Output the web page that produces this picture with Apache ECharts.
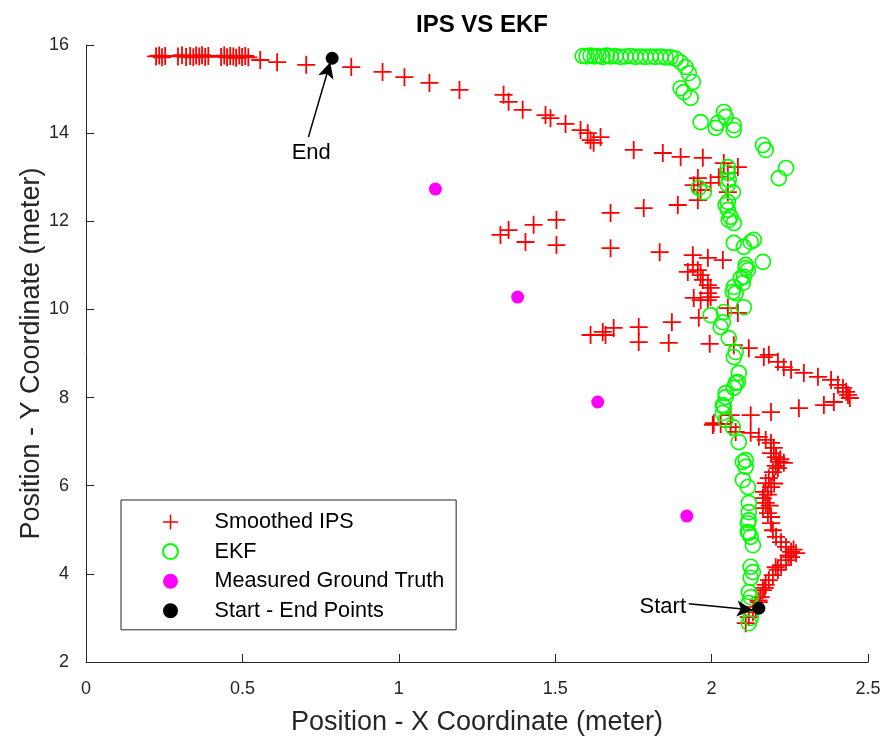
<!DOCTYPE html>
<html>
<head>
<meta charset="utf-8">
<title>IPS VS EKF</title>
<script src="https://cdn.jsdelivr.net/npm/echarts@6/dist/echarts.min.js"></script>
<style>
  html, body { margin: 0; padding: 0; background: #fff; }
  #chart { width: 886px; height: 742px; }
</style>
</head>
<body>
<div id="chart"></div>
<script>
// data, [x, y] in meters
var ipsPoints = [
  [0.224,15.74],[0.234,15.76],[0.243,15.72],[0.253,15.75],[0.294,15.74],[0.307,15.77],[0.320,15.73],[0.333,15.75],
  [0.343,15.72],[0.352,15.76],[0.362,15.74],[0.371,15.77],[0.381,15.73],[0.391,15.75],[0.432,15.73],[0.442,15.76],
  [0.451,15.72],[0.461,15.75],[0.471,15.74],[0.480,15.71],[0.490,15.76],[0.499,15.73],[0.509,15.75],[0.519,15.72],
  [0.557,15.66],[0.611,15.61],[0.704,15.55],[0.848,15.50],[0.948,15.39],[1.018,15.27],[1.098,15.14],[1.194,14.98],
  [1.335,14.87],[1.351,14.71],[1.396,14.53],[1.469,14.41],[1.485,14.34],[1.533,14.21],[1.581,14.07],[1.604,14.00],
  [1.613,13.84],[1.623,13.78],[1.645,13.91],
  [1.751,13.62],[1.844,13.55],[1.901,13.46],[1.972,13.44],[2.039,13.32],[2.084,13.23],[2.052,13.10],[2.023,13.00],
  [1.956,12.98],[1.943,12.82],[1.965,12.71],[1.997,12.87],[2.052,12.66],[1.956,12.48],[1.892,12.37],[1.783,12.30],
  [1.677,12.19],[1.325,11.69],[1.351,11.80],[1.405,11.53],[1.431,11.92],[1.504,12.03],[1.504,11.46],[1.677,11.39],
  [1.834,11.30],[1.940,11.23],[1.988,11.17],[2.036,11.12],[1.940,11.01],
  [1.924,10.85],[1.956,10.89],[1.965,10.78],[1.972,10.67],[1.988,10.55],[1.997,10.49],[1.988,10.37],[1.997,10.28],
  [1.943,10.26],[1.965,10.21],[1.988,10.21],[1.959,9.81],[2.084,9.92],[2.052,10.03],
  [1.613,9.42],[1.652,9.49],[1.661,9.42],[1.687,9.58],[1.767,9.60],[1.767,9.26],[1.873,9.71],[1.863,9.24],
  [1.994,9.22],[2.071,9.19],[2.119,9.12],
  [2.167,8.92],[2.183,8.97],[2.212,8.81],[2.231,8.69],[2.254,8.63],[2.295,8.56],[2.340,8.47],[2.382,8.40],
  [2.404,8.29],[2.420,8.22],[2.430,8.13],[2.436,8.06],[2.442,7.99],[2.391,7.90],[2.359,7.83],[2.279,7.76],
  [2.190,7.67],[2.125,7.60],[2.061,7.60],[2.007,7.42],
  [2.004,7.38],[2.029,7.40],[2.061,7.33],[2.077,7.22],[2.125,7.20],[2.151,7.11],[2.173,7.04],[2.190,6.97],
  [2.199,6.86],[2.190,6.74],[2.206,6.65],[2.215,6.54],[2.231,6.52],[2.212,6.40],[2.196,6.31],[2.183,6.17],
  [2.173,6.06],[2.190,5.97],[2.167,5.86],[2.164,5.72],[2.173,5.61],[2.164,5.49],[2.180,5.38],[2.190,5.29],
  [2.190,5.15],[2.196,4.99],[2.206,4.84],[2.222,4.72],[2.238,4.61],[2.254,4.50],[2.270,4.47],[2.254,4.38],
  [2.238,4.31],[2.222,4.20],[2.212,4.09],[2.196,3.97],[2.183,3.86],[2.173,3.75],[2.164,3.63],[2.157,3.47],
  [2.151,3.36],[2.141,3.25],[2.132,3.13],[2.119,3.02],[2.109,2.88],
  [2.180,5.80],[2.200,6.05],[2.186,5.55],[2.262,4.55],[2.246,4.42],[2.205,4.15],[2.170,3.68],[2.205,6.45],
  [2.220,6.60],[2.150,3.40]
];

var ekfPoints = [
  [1.588,15.75],[1.600,15.74],[1.613,15.76],[1.626,15.74],[1.639,15.75],[1.652,15.73],[1.665,15.76],[1.677,15.74],
  [1.693,15.75],[1.709,15.73],[1.725,15.74],[1.741,15.75],[1.757,15.73],[1.773,15.74],[1.789,15.73],[1.805,15.74],
  [1.821,15.73],[1.837,15.74],[1.853,15.72],[1.869,15.72],[1.885,15.69],
  [1.901,15.61],[1.917,15.50],[1.927,15.36],[1.940,15.16],[1.901,15.02],[1.911,14.93],[1.933,14.80],[1.965,14.25],
  [2.039,14.48],[2.045,14.37],[2.020,14.23],[2.013,14.12],[2.071,14.18],[2.071,14.07],[2.164,13.73],[2.173,13.62],
  [2.238,13.21],[2.215,12.98],[1.959,12.76],[1.975,12.66],[2.052,13.23],[2.052,13.10],[2.055,12.94],[2.052,12.83],
  [2.068,12.66],[2.052,12.44],[2.045,12.37],[2.052,12.26],[2.061,12.10],[2.055,12.03],[2.071,11.96],[2.071,11.51],
  [2.103,11.42],[2.125,11.53],[2.135,11.58],[2.109,11.01],[2.164,11.08],
  [2.116,10.89],[2.109,10.94],[2.103,10.74],[2.093,10.71],[2.100,10.60],[2.071,10.51],[2.068,10.40],[2.077,10.37],
  [2.103,10.05],[1.997,9.87],[2.039,9.94],[2.036,9.71],[2.029,9.60],[2.055,9.35],[2.077,9.03],[2.071,8.92],
  [2.087,8.56],[2.084,8.35],[2.077,8.33],[2.071,8.22],[2.045,8.10],[2.045,8.01],[2.036,7.83],[2.039,7.79],
  [2.036,7.65],[2.045,7.49],[2.068,7.33],
  [2.087,6.99],[2.100,6.54],[2.109,6.58],[2.109,6.43],[2.100,6.13],[2.116,5.97],[2.119,5.61],[2.119,5.40],
  [2.119,5.22],[2.116,5.15],[2.116,4.95],[2.119,4.93],[2.125,4.84],[2.132,4.65],[2.125,4.16],[2.132,4.04],
  [2.125,3.91],[2.119,3.59],[2.125,3.47],[2.119,3.34],[2.125,3.00],[2.119,2.88]
];

var groundTruth = [[1.117,12.73],[1.380,10.28],[1.636,7.90],[1.921,5.31]];

// start point first, end point second
var startEnd = [[2.151,3.22],[0.787,15.70]];

// annotation arrows: [tail, head]
var endArrow = [[0.711,13.91],[0.781,15.61]];
var startArrow = [[1.927,3.32],[2.132,3.18]];
// annotation texts
var endText = [0.720,13.55];
var startText = [1.844,3.25];

var xTicks = [0, 0.5, 1, 1.5, 2, 2.5];
var yTicks = [2, 4, 6, 8, 10, 12, 14, 16];

var fontFamily = 'Liberation Sans, Arial, Helvetica, sans-serif';
var axisColor = '#262626';

var chart = echarts.init(document.getElementById('chart'), null, { renderer: 'canvas' });

// axis settings shared by x and y
function axisBase(ticks, gap) {
  return {
    type: 'value',
    min: ticks[0],
    max: ticks[ticks.length - 1],
    interval: ticks[1] - ticks[0],
    nameLocation: 'middle',
    nameGap: gap,
    nameMoveOverlap: false,
    nameTextStyle: { color: axisColor, fontSize: 27, fontFamily: fontFamily },
    axisLine: { show: true, onZero: false, lineStyle: { color: axisColor, width: 1 } },
    axisTick: { show: true, inside: true, length: 8, lineStyle: { color: axisColor } },
    axisLabel: { color: axisColor, fontSize: 18, fontFamily: fontFamily },
    splitLine: { show: false }
  };
}

var xAxis = axisBase(xTicks, 47);
xAxis.name = 'Position - X Coordinate (meter)';
xAxis.axisLabel.margin = 18;

var yAxis = axisBase(yTicks, 41);
yAxis.name = 'Position - Y Coordinate (meter)';
yAxis.axisLabel.margin = 17;

var option = {
  backgroundColor: '#fff',
  animation: false,
  title: {
    text: 'IPS VS EKF',
    left: 477,
    top: 8,
    textAlign: 'center',
    textStyle: { color: '#000', fontSize: 24, fontWeight: 'bold', fontFamily: fontFamily }
  },
  grid: { left: 86, right: 18, top: 45, bottom: 80, containLabel: false },
  xAxis: xAxis,
  yAxis: yAxis,
  legend: {
    orient: 'vertical',
    left: 121,
    top: 500,
    padding: [11, 12, 8, 41],
    itemWidth: 78,
    itemHeight: 15,
    itemGap: 7.6,
    borderColor: axisColor,
    borderWidth: 1,
    borderRadius: 0,
    backgroundColor: '#fff',
    textStyle: { color: '#000', fontSize: 21.6, fontFamily: fontFamily },
    data: ['Smoothed IPS', 'EKF', 'Measured Ground Truth', 'Start - End Points']
  },
  series: [
    {
      name: 'Smoothed IPS',
      type: 'scatter',
      symbol: 'path://M0,9H20V11H0Z M9,0H11V20H9Z',
      symbolSize: 18,
      itemStyle: { color: '#ff0000', opacity: 1 },
      data: ipsPoints
    },
    {
      name: 'EKF',
      type: 'scatter',
      symbol: 'circle',
      symbolSize: 15,
      itemStyle: { color: 'rgba(0,0,0,0)', borderColor: '#00ff00', borderWidth: 1.6, opacity: 1 },
      data: ekfPoints
    },
    {
      name: 'Measured Ground Truth',
      type: 'scatter',
      symbol: 'circle',
      symbolSize: 13,
      itemStyle: { color: '#ff00ff', opacity: 1 },
      data: groundTruth
    },
    {
      name: 'Start - End Points',
      type: 'scatter',
      symbol: 'circle',
      symbolSize: 13,
      itemStyle: { color: '#000', opacity: 1 },
      data: startEnd,
      z: 5,
      // arrows pointing at the start / end
      markLine: {
        silent: true,
        symbol: ['none', 'arrow'],
        symbolSize: [12, 16],
        label: { show: false },
        lineStyle: { color: '#000', width: 1.5, type: 'solid', opacity: 1 },
        data: [
          [{ coord: endArrow[0] }, { coord: endArrow[1] }],
          [{ coord: startArrow[0] }, { coord: startArrow[1] }]
        ]
      },
      // the two text labels
      markPoint: {
        silent: true,
        symbol: 'circle',
        symbolSize: 1,
        itemStyle: { color: 'rgba(0,0,0,0)' },
        label: { show: true, position: 'inside', formatter: '{b}', color: '#000', fontSize: 22, fontFamily: fontFamily },
        data: [
          { name: 'End', coord: endText },
          { name: 'Start', coord: startText }
        ]
      }
    }
  ]
};

chart.setOption(option);
</script>
</body>
</html>
